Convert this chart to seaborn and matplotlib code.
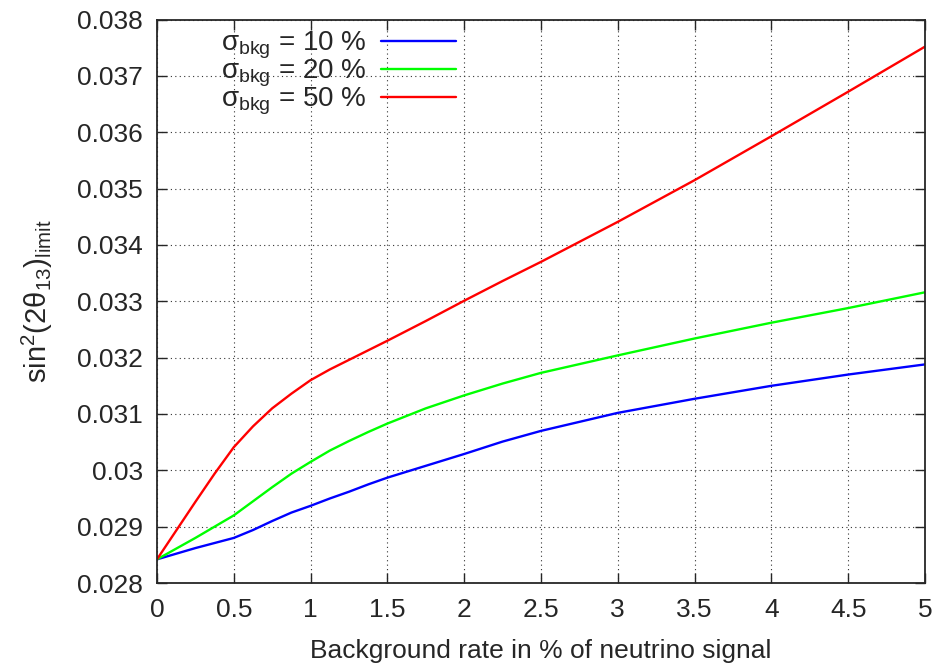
import numpy as np
import pandas as pd
import matplotlib
matplotlib.use("Agg")
import matplotlib.pyplot as plt
import seaborn as sns

# valores
taxa_fundo = [0, 0.125, 0.25, 0.375, 0.5, 0.625, 0.75, 0.875, 1.0, 1.125, 1.25,
              1.375, 1.5, 1.75, 2.0, 2.25, 2.5, 3.0, 3.5, 4.0, 4.5, 5.0]
limite_10 = [0.02842, 0.02852, 0.02862, 0.02871, 0.02880, 0.02894, 0.02910,
             0.02925, 0.02937, 0.02950, 0.02962, 0.02975, 0.02987, 0.03008,
             0.03029, 0.03051, 0.03070, 0.03102, 0.03127, 0.03150, 0.03170,
             0.03188]
limite_20 = [0.02842, 0.02861, 0.02880, 0.02900, 0.02920, 0.02945, 0.02970,
             0.02994, 0.03015, 0.03035, 0.03052, 0.03068, 0.03083, 0.03110,
             0.03133, 0.03154, 0.03173, 0.03204, 0.03234, 0.03262, 0.03288,
             0.03316]
limite_50 = [0.02842, 0.02893, 0.02944, 0.02994, 0.03041, 0.03078, 0.03110,
             0.03136, 0.03160, 0.03179, 0.03196, 0.03213, 0.03230, 0.03265,
             0.03301, 0.03336, 0.03370, 0.03441, 0.03515, 0.03593, 0.03672,
             0.03752]
rotulos = [r"σ$_{\mathrm{bkg}}$ = 10 %", r"σ$_{\mathrm{bkg}}$ = 20 %",
           r"σ$_{\mathrm{bkg}}$ = 50 %"]
cores = ["#0000ff", "#00ff00", "#ff0000"]

sns.set_style("ticks")
plt.rcParams["font.family"] = ["Liberation Sans", "DejaVu Sans"]
plt.rcParams["mathtext.fontset"] = "custom"
plt.rcParams["mathtext.rm"] = "Liberation Sans"
plt.rcParams["mathtext.it"] = "Liberation Sans:italic"

n = len(taxa_fundo)
df = pd.DataFrame({
    "x": taxa_fundo * 3,
    "y": limite_10 + limite_20 + limite_50,
    "serie": [rotulos[0]] * n + [rotulos[1]] * n + [rotulos[2]] * n,
})

fig = plt.figure(figsize=(9.41, 6.66), dpi=100)
ax = fig.add_axes([0.1668, 0.1246, 0.8162, 0.8460])

sns.lineplot(data=df, x="x", y="y", hue="serie", palette=cores,
             linewidth=1.7, ax=ax)

ax.set_xlim(0, 5)
ax.set_ylim(0.028, 0.038)
ax.set_xticks(np.arange(0, 5.01, 0.5))
ax.set_xticklabels(["0", "0.5", "1", "1.5", "2", "2.5", "3", "3.5", "4", "4.5", "5"])
ax.set_yticks(np.arange(0.028, 0.03801, 0.001))
ax.set_yticklabels(["0.028", "0.029", "0.03", "0.031", "0.032", "0.033",
                    "0.034", "0.035", "0.036", "0.037", "0.038"])
ax.tick_params(direction="in", length=7, width=1, top=True, right=True,
               labelsize=19)
ax.tick_params(axis="x", pad=11)
ax.tick_params(axis="y", pad=10)
ax.grid(True, linestyle=(0, (1, 3)), color="#333333", linewidth=0.8)
for s in ax.spines.values():
    s.set_linewidth(1.3)

ax.set_xlabel("Background rate in % of neutrino signal", fontsize=19, labelpad=12)
ax.set_ylabel(r"sin$^2$(2θ$_{13}$)$_{\mathrm{limit}}$", fontsize=21, labelpad=16)

# legenda estilo gnuplot: texto à esquerda, amostra da linha à direita
leg = ax.legend(loc="upper right", bbox_to_anchor=(0.389, 0.982), frameon=False,
                markerfirst=False, fontsize=20, handlelength=2.7,
                labelspacing=-0.12, handletextpad=0.5, borderpad=0,
                borderaxespad=0)
for t in leg.get_texts():
    t.set_ha("right")

fig.savefig("out.png", dpi=100)
